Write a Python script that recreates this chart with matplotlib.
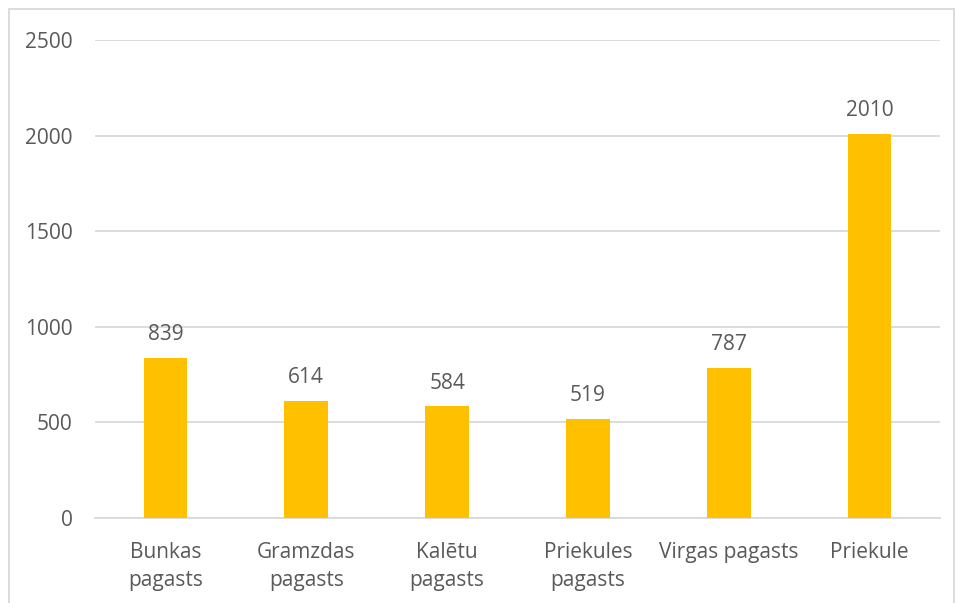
from matplotlib import pyplot as plt
from matplotlib.patches import Rectangle

# dati
kategorijas = ['Bunkas\npagasts', 'Gramzdas\npagasts', 'Kalētu\npagasts',
               'Priekules\npagasts', 'Virgas pagasts', 'Priekule']
vertibas = [839, 614, 584, 519, 787, 2010]
y_ticks = [0, 500, 1000, 1500, 2000, 2500]

plt.rcParams['font.family'] = ['Open Sans', 'DejaVu Sans']
teksts = '#595959'
rezga = '#D9D9D9'

fig = plt.figure(figsize=(9.56, 6.03), dpi=100)
ax = fig.add_axes([95/956, 1 - 518/603, 845/956, 478/603])

x = range(len(kategorijas))
bars = ax.bar(x, vertibas, width=0.31, color='#FFC000', zorder=3)

# vertibas virs stabiem
for b, v in zip(bars, vertibas):
    ax.annotate(str(v), (b.get_x() + b.get_width() / 2, v),
                xytext=(0, 9), textcoords='offset points',
                ha='center', va='bottom', fontsize=15, color=teksts)

ax.set_xlim(-0.5, len(kategorijas) - 0.5)
ax.set_ylim(0, 2500)
ax.set_yticks(y_ticks)
ax.set_xticks(list(x))
ax.set_xticklabels(kategorijas, fontsize=15, color=teksts, linespacing=1.45)
ax.tick_params(axis='y', labelsize=15, labelcolor=teksts, length=0, pad=16)
ax.tick_params(axis='x', length=0, pad=17)

ax.grid(axis='y', color=rezga, linewidth=1.3, zorder=0)
for s in ['top', 'right', 'left']:
    ax.spines[s].set_visible(False)
ax.spines['bottom'].set_color(rezga)
ax.spines['bottom'].set_linewidth(1.3)

# ramis
fig.patches.append(Rectangle((8.5/956, -0.1), (954 - 8.5)/956, 1.1 - 9.5/603,
                             transform=fig.transFigure, fill=False,
                             edgecolor='#D9D9D9', linewidth=1.3))

fig.savefig('out.png', dpi=100)
